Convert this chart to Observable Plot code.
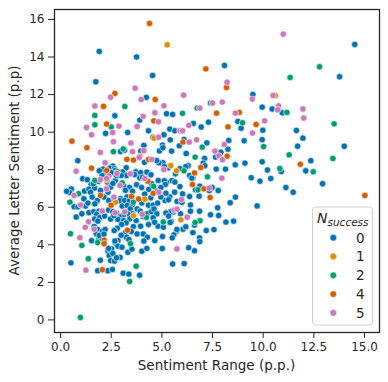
<!DOCTYPE html>
<html><head><meta charset="utf-8">
<script src="https://cdn.jsdelivr.net/npm/d3@7"></script>
<script src="https://cdn.jsdelivr.net/npm/@observablehq/plot@0.6"></script>
<style>body{margin:0;background:#fff;} svg{display:block}</style>
</head><body><div id="chart"></div>
<script>
const groups = ["0", "1", "2", "4", "5"];
const colors = ["#0173B2", "#DE8F05", "#029E73", "#D55E00", "#CC78BC"];
const xTicks = [0, 2.5, 5, 7.5, 10, 12.5, 15];
const yTicks = [0, 2, 4, 6, 8, 10, 12, 14, 16];
const xLabel = "Sentiment Range (p.p.)";
const yLabel = "Average Letter Sentiment (p.p)";

const n0 = [
[1.91,14.3],[3.75,14.0],[4.54,13.02],[1.74,12.68],[14.52,14.67],[8.09,13.55],[13.77,12.95],[9.49,12.0],[4.23,11.85],[10.44,11.23],[9.95,11.33],[10.94,11.03],[8.75,10.57],[8.91,10.21],[11.64,10.09],[9.98,10.1],[9.95,9.6],[9.06,9.54],[11.96,9.68],[11.7,9.25],[14.0,9.25],[12.35,8.48],[9.95,8.42],[9.1,8.35],[8.62,8.26],[10.21,7.98],[10.89,7.9],[12.1,7.94],[9.41,7.57],[10.37,7.53],[9.84,7.39],[12.93,7.25],[11.12,7.05],[11.48,6.8],[9.7,6.07],[8.63,6.54],[8.37,6.24],[8.54,5.26],[8.16,5.21],
[5.23,10.98],[5.53,10.94],[6.55,10.46],[6.94,10.27],[7.3,10.53],[5.39,10.16],[5.64,10.07],[5.1,9.86],[5.41,9.59],[6.09,9.61],[7.22,9.43],[8.3,9.56],[8.26,9.09],[5.03,9.31],[4.88,9.0],[5.86,9.27],[5.48,8.99],[7.91,8.93],[6.2,8.86],[7.11,8.6],[7.04,8.35],[7.65,8.67],[5.05,8.37],[5.31,8.1],[6.3,8.21],[7.12,8.21],[8.14,8.03],[7.68,8.03],[5.89,8.05],[5.67,7.78],[6.37,7.69],[6.53,7.57],[5.49,7.42],[5.23,7.32],[5.89,7.1],[6.87,7.12],[7.34,6.89],[7.78,6.89],[7.48,7.05],[6.02,6.71],[6.37,6.57],[6.84,6.59],[6.41,6.12],[5.63,6.8],[5.39,6.55],[7.75,5.97],[6.86,5.79],[6.41,5.79],[7.8,5.56],[7.4,5.6],[5.92,5.65],[5.56,5.74],[6.61,5.05],[7.19,4.76],[7.57,4.81],[6.04,4.83],[6.18,4.96],[6.53,4.65],[5.72,4.72],[5.59,4.53],[6.86,4.37],[6.87,4.17],[5.51,4.37],[6.32,3.85],[6.61,3.68],[5.53,2.98],[6.1,3.0],[5.02,3.8],[5.03,4.44],[4.65,4.23],[4.81,4.99],[5.07,4.94],[5.46,5.24],[6.18,8.16],[6.48,7.55],[6.66,6.93],[5.16,6.36],[5.33,6.4],[5.75,6.31],[5.99,6.26],[5.43,5.76],[5.2,5.69],[5.33,5.53],[5.41,5.19],[5.74,4.82],
[3.31,9.98],[4.34,10.07],[4.11,9.29],[4.56,9.73],[5.05,9.17],[3.96,8.99],[2.96,8.97],[3.16,9.04],[4.14,8.39],[4.85,8.37],[5.12,8.17],[3.24,8.1],[3.71,7.89],[3.95,7.84],[4.26,7.87],[4.46,7.73],[3.91,7.57],[4.82,7.43],[5.12,7.41],[5.17,7.21],[5.64,7.34],[3.06,7.88],[4.78,6.86],[3.28,6.55],[2.96,6.46],[3.91,10.64],[4.74,8.49],[3.26,7.69],[2.99,7.69],[2.58,8.19],[2.42,8.08],[2.65,8.05],[2.11,8.03],[2.17,7.71],[2.7,7.41],[3.11,7.14],[3.65,7.74],[4.05,7.6],[2.68,10.87],[2.22,9.93],[0.85,8.48],[1.91,7.94],[2.7,7.96],[2.5,7.84],[2.75,7.69],[1.09,7.52],[1.32,7.47],[1.86,7.38],[1.51,7.21],[0.53,6.97],[0.44,6.79],[1.18,6.86],[1.4,6.96],[1.68,7.02],[2.4,7.2],
[3.4,7.05],[3.75,7.2],[4.0,7.05],[4.35,6.95],[4.15,6.7],[3.55,6.85],[4.5,7.25],[4.95,7.05],[3.2,6.9],[4.45,6.5],[4.95,6.55],[5.2,6.75],
[2.94,6.35],[4.01,6.22],[4.34,6.11],[4.57,6.11],[4.79,6.22],[3.16,6.36],[3.4,6.34],[3.04,6.06],[3.29,6.09],[3.55,6.13],[3.78,5.91],[3.44,5.91],[3.93,5.79],[3.55,5.65],[3.31,5.65],[3.11,5.6],[2.88,5.51],[2.83,5.35],[3.11,5.29],[3.42,5.38],[3.73,5.29],[4.08,5.51],[4.28,5.65],[4.49,5.77],[4.61,5.91],[4.75,5.65],[4.57,5.44],[4.64,5.2],[4.34,5.08],[3.95,4.99],[3.59,4.97],[3.24,5.17],[3.01,5.08],[2.8,4.88],[2.65,4.76],[3.21,4.67],[3.49,4.71],[3.78,4.58],[4.08,4.58],[4.28,4.4],[3.26,4.4],[2.99,4.51],[2.83,4.23],[3.37,4.28],[2.71,4.09],[2.83,3.93],[3.03,3.87],[2.52,3.78],[2.34,3.66],[2.4,3.43],[2.47,3.16],[4.11,4.2],[3.32,3.6],[3.52,3.77],[4.01,3.66],[4.26,3.81],[3.09,2.49],[3.37,2.44],[3.9,2.38],[2.94,3.33],
[0.67,6.03],[1.04,6.1],[1.23,6.06],[0.77,5.48],[1.05,5.65],[1.4,5.71],[1.64,5.76],[1.89,5.79],[1.78,5.62],[2.37,5.85],[2.58,5.76],[2.76,5.69],[1.68,5.37],[1.94,5.46],[1.84,5.26],[2.17,5.53],[2.47,5.37],[2.63,5.55],[1.66,4.98],[1.83,4.82],[1.76,4.59],[2.07,4.73],[2.2,4.82],[1.53,4.22],[1.89,4.29],[1.91,4.5],[2.14,4.57],[2.37,3.81],[2.58,3.54],[2.68,4.2],[0.51,3.04],[1.96,3.18],[2.66,3.13],[2.76,3.31],[1.83,2.62],[2.33,2.62],[2.56,2.69],
[0.3,6.85],[1.48,6.8],[1.97,6.89],[2.34,6.8],[2.47,7.07],[1.56,6.54],[1.15,6.45],[1.81,6.36],[2.14,6.54],[2.38,6.36],[2.63,6.45],[1.35,6.22],[1.69,6.18],[0.86,6.02],[2.05,7.68],[2.3,7.35],[1.62,7.25],[2.58,7.27]
];
const n1 = [[5.26,14.65],[10.6,11.95],[4.61,9.68],[5.44,8.22],[5.72,7.94],[5.94,5.33],[2.71,6.27],[4.16,6.43],[3.6,5.55],[2.3,7.45]];
const n2 = [[12.78,13.48],[11.33,12.91],[3.17,11.37],[7.4,11.55],[6.74,11.28],[6.02,11.0],[11.17,11.05],[8.98,10.5],[13.5,10.44],[1.69,10.89],[1.69,10.39],[2.5,10.27],[10.02,9.23],[11.28,8.79],[13.44,8.6],[10.82,8.06],[12.47,7.89],[6.99,9.2],[6.64,8.67],[6.09,7.94],[7.25,7.62],[6.78,6.93],[6.88,5.28],[6.64,5.19],[5.07,5.22],[2.61,8.96],[3.09,9.1],[1.69,7.43],[0.89,6.72],[0.46,6.27],[2.81,7.89],[3.04,7.3],[4.59,7.11],[3.59,6.27],[4.24,5.46],[0.49,4.59],[1.05,3.97],[1.37,3.26],[3.45,4.06],[3.73,2.86],[3.41,2.05],[0.98,0.13],[1.83,4.12]];
const n4 = [[4.39,15.79],[7.17,13.37],[8.19,12.38],[2.68,12.06],[4.67,11.74],[2.12,11.37],[7.7,11.01],[8.82,11.05],[4.6,10.6],[9.65,10.41],[8.26,10.28],[2.27,10.43],[0.56,9.52],[1.3,9.17],[11.83,8.29],[8.22,8.72],[6.92,8.12],[6.61,7.83],[6.51,7.21],[7.07,6.98],[7.38,6.52],[15.02,6.63],[3.91,8.71],[3.27,8.55],[3.6,8.51],[4.34,8.54],[1.53,8.08],[2.28,7.96],[4.31,7.39],[4.57,6.74],[3.5,6.58],[3.85,6.44],[6.04,9.47],[2.49,6.11],[1.97,6.63],[2.15,4.25],[2.15,4.06],[3.3,4.78],[2.06,2.67]];
const n5 = [[10.99,15.22],[8.22,12.66],[6.07,11.97],[9.46,11.76],[10.49,11.95],[3.68,12.34],[2.47,11.86],[3.98,11.74],[1.69,11.39],[5.1,11.4],[7.5,11.55],[6.87,11.28],[7.98,11.6],[10.76,11.4],[10.72,11.19],[11.96,11.23],[12.0,10.75],[8.63,11.01],[10.07,10.6],[9.47,9.95],[4.65,11.03],[6.33,10.36],[5.89,10.07],[6.02,10.07],[4.84,9.73],[6.35,9.47],[6.71,9.59],[8.08,9.34],[7.62,8.99],[7.81,8.74],[7.99,8.53],[5.1,8.01],[7.96,7.55],[7.34,7.02],[5.97,6.41],[6.25,5.47],[5.74,3.78],[4.08,10.84],[3.78,10.3],[2.88,10.32],[1.28,10.25],[2.57,9.98],[1.53,9.86],[2.61,9.49],[3.47,9.42],[1.96,8.92],[2.2,8.37],[0.77,7.92],[2.38,7.66],[1.97,7.47],[2.27,7.53],[2.27,6.98],[3.55,8.96],[4.11,9.01],[3.88,8.65],[4.5,8.55],[4.16,7.53],[3.45,7.78],[2.78,7.8],[2.93,7.16],[4.83,10.55],[0.98,6.12],[1.38,5.23],[1.22,4.93],[0.95,4.38],[1.25,2.65],[2.06,5.8],[2.69,5.7],[3.17,5.75],[4.03,5.63],[5.6,5.85],[5.75,5.9],[0.67,6.63],[1.66,4.83],[2.63,6.54],[4.85,6.8]];

const series = {"0": n0, "1": n1, "2": n2, "4": n4, "5": n5};
const data = groups.flatMap(g => series[g].map(([x, y]) => ({x, y, g})));

const W = 388, H = 382;
const plot = Plot.plot({
  width: W, height: H,
  marginLeft: 54, marginRight: 9, marginTop: 9, marginBottom: 50,
  style: {fontFamily: "DejaVu Sans", fontSize: "12px", color: "#262626", background: "#fff", overflow: "visible"},
  x: {domain: [-0.3, 15.74]},
  y: {domain: [-0.67, 16.53]},
  color: {domain: groups, range: colors},
  marks: [
    Plot.dot(data, {x: "x", y: "y", fill: "g", r: 3.2, stroke: "white", strokeWidth: 0.6}),
    Plot.frame({stroke: "#262626", strokeWidth: 1.3}),
    Plot.axisX({ticks: xTicks, tickFormat: d3.format(".1f"), tickSize: 6, tickPadding: 4, label: null, fontSize: 12}),
    Plot.axisY({ticks: yTicks, tickSize: 6, tickPadding: 4, label: null, fontSize: 12})
  ]
});
document.getElementById("chart").appendChild(plot);

const svg = d3.select(plot);
const xs = plot.scale("x"), ys = plot.scale("y");
const cx = (xs.range[0] + xs.range[1]) / 2;
const cy = (ys.range[0] + ys.range[1]) / 2;
svg.append("text").attr("x", cx).attr("y", 370).attr("text-anchor", "middle")
  .attr("font-family", "DejaVu Sans").attr("font-size", 13.5).attr("fill", "#262626").text(xLabel);
svg.append("text").attr("transform", `translate(19,${cy}) rotate(-90)`).attr("text-anchor", "middle")
  .attr("font-family", "DejaVu Sans").attr("font-size", 13.5).attr("fill", "#262626").text(yLabel);

// legend
const color = plot.scale("color");
const lg = svg.append("g").attr("font-family", "DejaVu Sans").attr("fill", "#262626");
lg.append("rect").attr("x", 312.5).attr("y", 207).attr("width", 60).attr("height", 118).attr("rx", 3)
  .attr("fill", "white").attr("fill-opacity", 0.85).attr("stroke", "#d0d0d0").attr("stroke-width", 1);
const title = lg.append("text").attr("x", 317).attr("y", 223).attr("text-anchor", "start")
  .attr("font-size", 14).attr("font-style", "italic");
title.append("tspan").text("N");
title.append("tspan").attr("dy", 3).attr("font-size", 10.5).text("success");
groups.forEach((g, i) => {
  const yy = 237.7 + i * 18.8;
  lg.append("circle").attr("cx", 333.3).attr("cy", yy).attr("r", 3.4).attr("fill", color.apply(g)).attr("stroke", "white").attr("stroke-width", 0.6);
  lg.append("text").attr("x", 364.5).attr("y", yy).attr("dy", "0.36em").attr("text-anchor", "end").attr("font-size", 13.5).text(g);
});
</script>
</body></html>
